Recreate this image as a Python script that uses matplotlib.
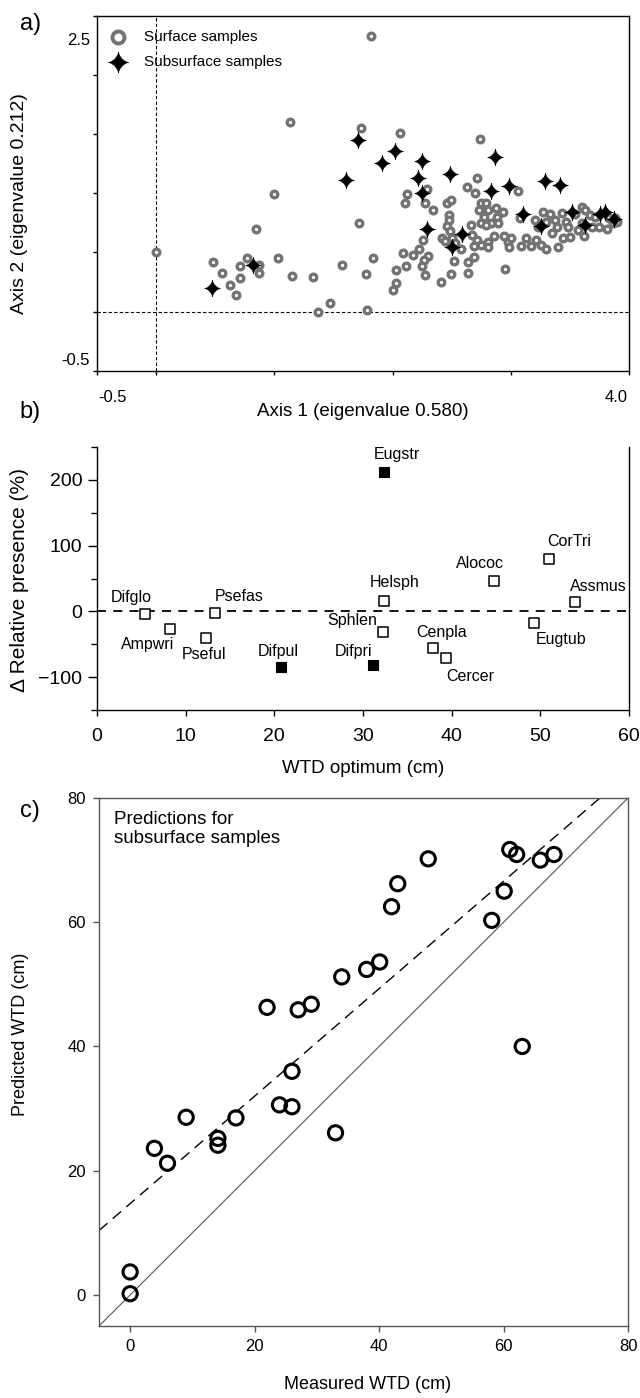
"""Three-panel figure: ordination, change in relative presence, WTD predictions."""

import matplotlib

matplotlib.use("Agg")
import matplotlib.pyplot as plt
import numpy as np
from matplotlib.path import Path
from matplotlib.ticker import FixedLocator, NullFormatter

plt.rcParams["font.family"] = ["Liberation Sans", "DejaVu Sans"]

# ---- panel a: sample scores on axis 1 / axis 2 ----
surface_axis1 = [
    1.82, 1.13, 1.73, 2.06, 2.74, 0.995, 0.846, 0.0, 0.484, 0.558, 0.624, 0.677,
    0.707, 0.713, 0.772, 0.870, 0.867, 1.034, 1.149, 1.325, 1.369, 1.473, 1.574,
    1.714, 1.779, 1.782, 1.835,
    2.717, 2.626, 2.697, 2.29, 2.124, 2.104, 2.27, 2.338, 3.059, 2.46, 2.498,
    2.746, 2.79, 2.808, 2.731, 2.874, 2.93, 2.774, 2.882, 2.746, 2.831, 2.79,
    2.888, 2.475, 2.475, 2.46, 2.489, 2.66, 2.418, 2.447, 2.504, 2.532, 2.575,
    2.674, 2.717, 2.746, 2.689, 2.803, 2.803, 2.86, 2.945, 2.974, 3.003, 2.988,
    3.075, 3.087, 3.13, 3.173, 3.216, 3.253, 3.301, 3.35, 3.40, 3.44, 3.50,
    3.615, 3.273, 3.33, 3.373, 3.43, 3.47, 3.543, 3.60, 3.63, 3.672, 3.714,
    3.686, 3.202, 3.231, 3.301, 3.387, 3.487, 3.572, 3.60, 3.743, 3.83, 3.815,
    2.09, 2.175, 2.226, 2.254, 2.30, 2.262, 2.248, 2.277, 2.113, 2.033, 2.033,
    2.004, 2.412, 2.495, 2.523, 2.637, 2.637, 2.689, 2.951, 3.88, 3.90, 3.86,
]
surface_axis2 = [
    2.33, 1.605, 1.55, 1.51, 1.46, 0.996, 0.70, 0.50, 0.415, 0.327, 0.228, 0.138,
    0.384, 0.282, 0.454, 0.392, 0.322, 0.454, 0.299, 0.293, 0.0, 0.07, 0.398,
    0.75, 0.319, 0.011, 0.457,
    1.125, 1.055, 1.004, 1.032, 0.99, 0.92, 0.92, 0.858, 1.021, 0.92, 0.942,
    0.92, 0.914, 0.858, 0.858, 0.872, 0.843, 0.80, 0.80, 0.745, 0.745, 0.731,
    0.745, 0.815, 0.773, 0.722, 0.68, 0.731, 0.623, 0.595, 0.618, 0.581, 0.525,
    0.646, 0.604, 0.561, 0.553, 0.59, 0.542, 0.638, 0.638, 0.59, 0.626, 0.547,
    0.795, 0.553, 0.618, 0.553, 0.604, 0.561, 0.525, 0.666, 0.542, 0.618, 0.632,
    0.638, 0.843, 0.829, 0.773, 0.835, 0.759, 0.829, 0.886, 0.858, 0.815, 0.801,
    0.716, 0.773, 0.716, 0.759, 0.716, 0.716, 0.688, 0.745, 0.716, 0.787, 0.702,
    0.496, 0.482, 0.525, 0.604, 0.468, 0.434, 0.384, 0.307, 0.384, 0.35, 0.243,
    0.181, 0.251, 0.316, 0.429, 0.322, 0.42, 0.463, 0.364, 0.79, 0.76, 0.75,
]
subsurface_axis1 = [
    0.472, 0.823, 1.604, 1.705, 1.907, 2.02, 2.25, 2.218, 2.247, 2.29, 2.489,
    2.503, 2.589, 2.831, 2.87, 2.988, 3.102, 3.287, 3.416, 3.259, 3.515, 3.63,
    3.757, 3.80, 3.87,
]
subsurface_axis2 = [
    0.203, 0.398, 1.109, 1.45, 1.258, 1.357, 1.272, 1.125, 0.999, 0.694, 1.162,
    0.542, 0.654, 1.021, 1.309, 1.06, 0.829, 1.106, 1.069, 0.722, 0.843, 0.731,
    0.829, 0.843, 0.78,
]
axis_a_limits = (-0.5, 4.0, -0.5, 2.5)

# ---- panel b: change in relative presence vs WTD optimum ----
taxa = ["Difglo", "Ampwri", "Psefas", "Pseful", "Difpul", "Eugstr", "Difpri",
        "Helsph", "Sphlen", "Cenpla", "Cercer", "Alococ", "CorTri", "Assmus",
        "Eugtub"]
wtd_optimum = [5.4, 8.25, 13.3, 12.3, 20.8, 32.35, 31.1, 32.4, 32.2, 37.9, 39.4,
               44.8, 51.0, 53.9, 49.3]
delta_presence = [-4.6, -26, -2, -41, -84, 212, -81, 16, -32, -56, -71, 46, 80,
                  14, -17]
significant = [False, False, False, False, True, True, True, False, False, False,
               False, False, False, False, False]

# label offsets (points) for each taxon
label_offsets = {
    "Difglo": (-10, 12.5), "Ampwri": (-16, -11.5), "Psefas": (17.5, 11.5),
    "Pseful": (-1.5, -11.5), "Difpul": (-2, 11), "Eugstr": (9.5, 12.5),
    "Difpri": (-14, 9.5), "Helsph": (7.5, 13.5), "Sphlen": (-22, 8.5),
    "Cenpla": (6, 11), "Cercer": (17.5, -13), "Alococ": (-10.5, 13),
    "CorTri": (14, 12.5), "Assmus": (17, 11), "Eugtub": (19, -12),
}

# ---- panel c: measured vs predicted WTD for subsurface samples ----
measured_wtd = [0, 0, 3.9, 6.0, 9.0, 14.1, 14.1, 17.0, 22.0, 24.0, 26.0, 26.0,
                27.0, 29.1, 33.0, 34.0, 38.0, 40.1, 42.0, 43.0, 47.9, 58.1, 60.1,
                61.0, 62.1, 63.0, 65.9, 68.1]
predicted_wtd = [0.2, 3.7, 23.6, 21.2, 28.6, 25.2, 24.1, 28.5, 46.3, 30.6, 30.3,
                 36.0, 45.9, 46.8, 26.1, 51.2, 52.4, 53.6, 62.5, 66.2, 70.2, 60.3,
                 65.0, 71.7, 70.9, 40.0, 70.0, 70.9]
fit_intercept = 14.7
fit_slope = 0.865
wtd_limits = (-5, 80)


def four_point_star(power=3.0, n=160):
    """Concave four-pointed star used for subsurface samples."""
    t = np.linspace(0, 2 * np.pi, n)
    x = np.sign(np.cos(t)) * np.abs(np.cos(t)) ** power
    y = np.sign(np.sin(t)) * np.abs(np.sin(t)) ** power * 1.05
    return Path(np.column_stack([x, y]), closed=True)


fig = plt.figure(figsize=(6.4, 13.98), dpi=100)

# ================= panel a =================
ax_a = fig.add_axes([0.1516, 0.7348, 0.8313, 0.2539])
xmin, xmax, ymin, ymax = axis_a_limits
ax_a.axvline(0, color="black", lw=0.8, ls=(0, (3, 2)), zorder=1)
ax_a.axhline(0, color="black", lw=0.8, ls=(0, (3, 2)), zorder=1)
ax_a.scatter(surface_axis1, surface_axis2, s=23, facecolors="white",
             edgecolors="#737373", linewidths=2.4, zorder=2,
             label="Surface samples")
ax_a.scatter(subsurface_axis1, subsurface_axis2, s=140, marker=four_point_star(),
             color="black", linewidths=0.4, zorder=3, label="Subsurface samples")
ax_a.set_xlim(xmin, xmax)
ax_a.set_ylim(ymin, ymax)
ax_a.set_xticks([-0.5, 0, 1, 2, 3, 4])
ax_a.set_yticks([-0.5, 0, 0.5, 1.0, 1.5, 2.0, 2.5])
ax_a.xaxis.set_major_formatter(NullFormatter())
ax_a.yaxis.set_major_formatter(NullFormatter())
ax_a.tick_params(length=3, width=1, direction="out")
for sp in ax_a.spines.values():
    sp.set_linewidth(1.0)

leg = ax_a.legend(loc="upper left", bbox_to_anchor=(0.018, 0.96), frameon=False,
                  fontsize=11, handlelength=1.5, handletextpad=0.95,
                  labelspacing=0.7, borderpad=0, borderaxespad=0)
leg.legend_handles[0].set_sizes([75])
leg.legend_handles[0].set_linewidth(2.8)
leg.legend_handles[1].set_sizes([230])

corner = dict(fontsize=12, transform=ax_a.transAxes, va="center")
ax_a.text(-0.013, 0.93, f"{ymax:.1f}", ha="right", **corner)
ax_a.text(-0.013, 0.03, f"{ymin:.1f}", ha="right", **corner)
ax_a.text(0.002, -0.074, f"{xmin:.1f}", ha="left", **corner)
ax_a.text(0.998, -0.074, f"{xmax:.1f}", ha="right", **corner)
ax_a.set_xlabel("Axis 1 (eigenvalue 0.580)", fontsize=13.5, va="center")
ax_a.xaxis.set_label_coords(0.5, -0.116)
ax_a.set_ylabel("Axis 2 (eigenvalue 0.212)", fontsize=14, va="center")
ax_a.yaxis.set_label_coords(-0.145, 0.47)

# ================= panel b =================
ax_b = fig.add_axes([0.1516, 0.4921, 0.8313, 0.1881])
ax_b.axhline(0, color="black", lw=1.3, ls=(0, (5, 4)), zorder=1)
open_idx = [i for i, sig in enumerate(significant) if not sig]
fill_idx = [i for i, sig in enumerate(significant) if sig]
ax_b.scatter([wtd_optimum[i] for i in open_idx], [delta_presence[i] for i in open_idx],
             marker="s", s=52, facecolors="white", edgecolors="black",
             linewidths=1.1, zorder=3)
ax_b.scatter([wtd_optimum[i] for i in fill_idx], [delta_presence[i] for i in fill_idx],
             marker="s", s=56, color="black", linewidths=0.8, zorder=3)
for name, x, y in zip(taxa, wtd_optimum, delta_presence):
    ax_b.annotate(name, (x, y), xytext=label_offsets[name],
                  textcoords="offset points", ha="center", va="center",
                  fontsize=11.5)
ax_b.set_xlim(0, 60)
ax_b.set_ylim(-150, 250)
ax_b.set_xticks(range(0, 61, 10))
ax_b.set_yticks([-100, 0, 100, 200])
ax_b.yaxis.set_minor_locator(FixedLocator([-150, -50, 50, 150, 250]))
ax_b.spines["top"].set_visible(False)
for sp in ("left", "right", "bottom"):
    ax_b.spines[sp].set_linewidth(1.0)
ax_b.tick_params(axis="x", length=4, width=1, labelsize=14, pad=9)
ax_b.tick_params(axis="y", which="major", length=6.5, width=1, labelsize=14, pad=4)
ax_b.tick_params(axis="y", which="minor", length=4.5, width=1)
ax_b.set_xlabel("WTD optimum (cm)", fontsize=13.5, va="center")
ax_b.xaxis.set_label_coords(0.5, -0.224)
ax_b.set_ylabel("\u0394 Relative presence (%)", fontsize=15, va="center")
ax_b.yaxis.set_label_coords(-0.145, 0.494)

# ================= panel c =================
ax_c = fig.add_axes([0.1547, 0.0515, 0.8266, 0.3777])
lo, hi = wtd_limits
ax_c.plot([lo, hi], [lo, hi], color="#555555", lw=0.8, zorder=1)
fit_x = np.array([lo, (hi - fit_intercept) / fit_slope])
ax_c.plot(fit_x, fit_intercept + fit_slope * fit_x, color="black", lw=1.0,
          ls=(0, (8, 5)), zorder=1)
ax_c.scatter(measured_wtd, predicted_wtd, s=105, facecolors="none",
             edgecolors="black", linewidths=2.2, zorder=3)
ax_c.set_xlim(lo, hi)
ax_c.set_ylim(lo, hi)
ax_c.set_xticks([0, 20, 40, 60, 80])
ax_c.set_yticks([0, 20, 40, 60, 80])
for sp in ax_c.spines.values():
    sp.set_color("#555555")
    sp.set_linewidth(1.0)
ax_c.tick_params(length=4.3, width=1, color="#555555", labelsize=12, pad=5)
ax_c.text(0.028, 0.975, "Predictions for\nsubsurface samples", transform=ax_c.transAxes,
          ha="left", va="top", fontsize=13.5, linespacing=1.15)
ax_c.set_xlabel("Measured WTD (cm)", fontsize=13, va="center")
ax_c.xaxis.set_label_coords(0.508, -0.11)
ax_c.set_ylabel("Predicted WTD (cm)", fontsize=13, va="center")
ax_c.yaxis.set_label_coords(-0.149, 0.553)

# panel letters
for letter, ypos in (("a)", 0.983), ("b)", 0.7053), ("c)", 0.42)):
    fig.text(0.047, ypos, letter, fontsize=17, ha="center", va="center")

fig.savefig("out.png", dpi=100)
